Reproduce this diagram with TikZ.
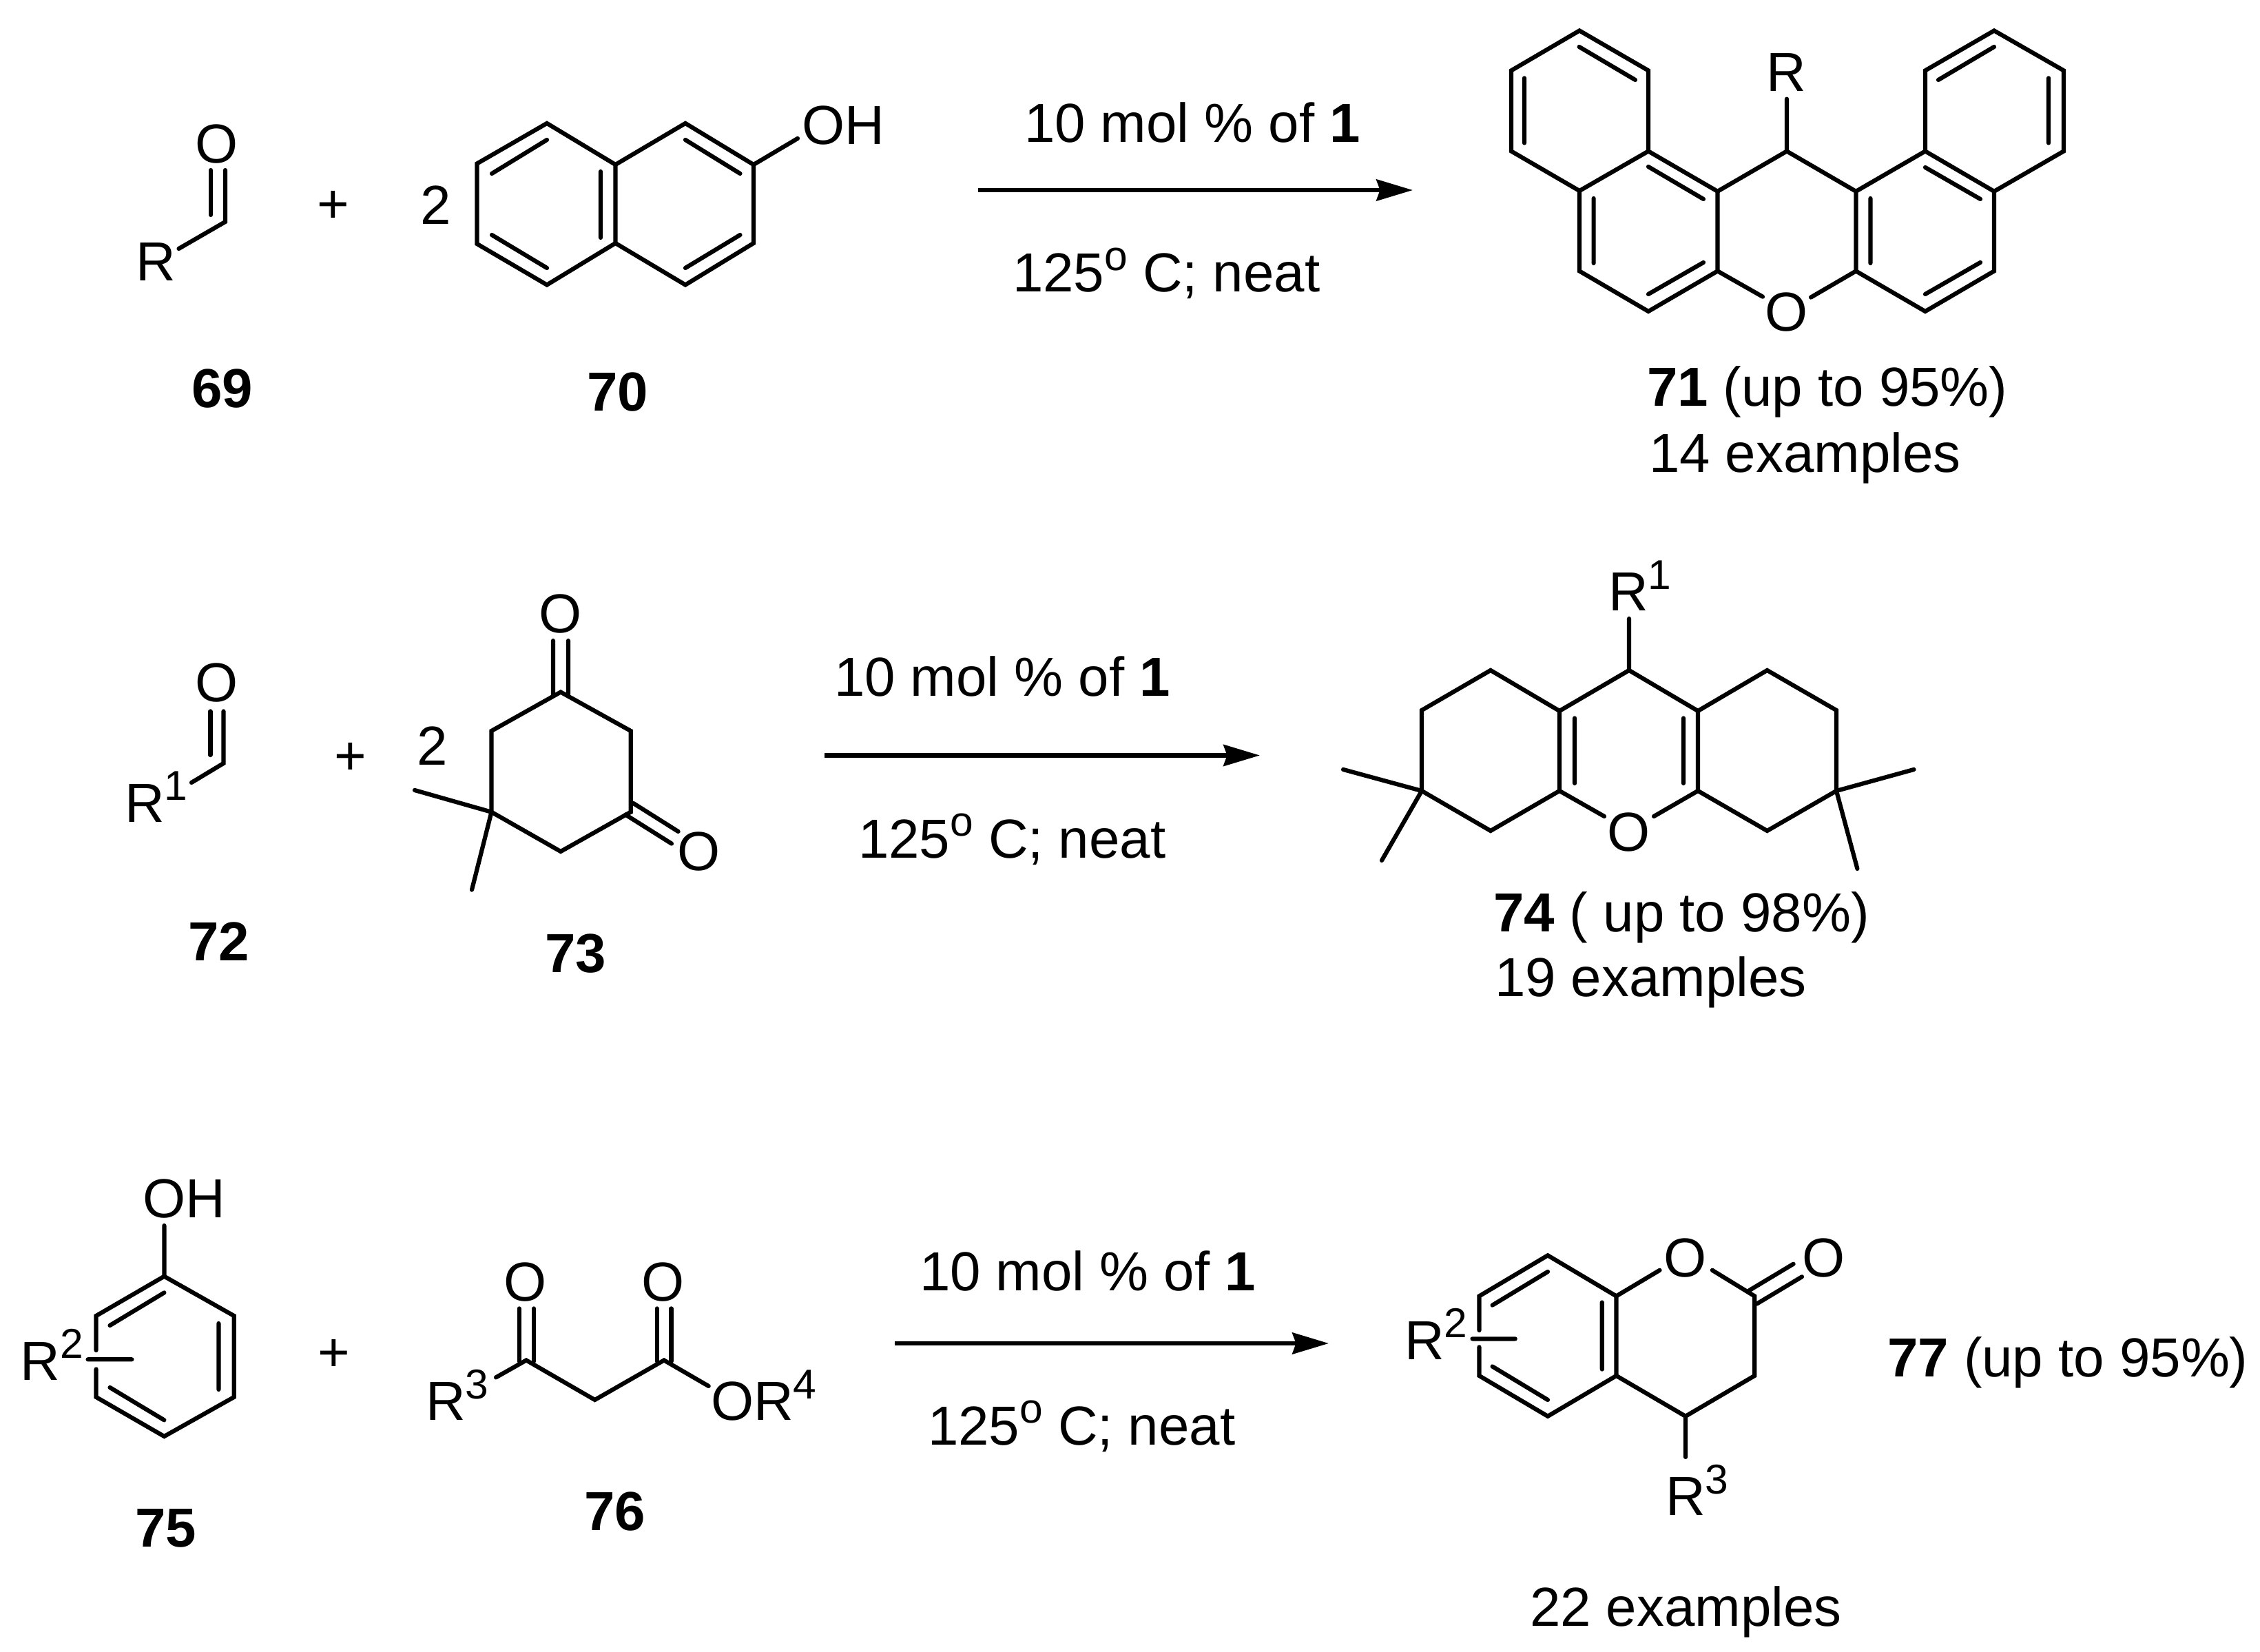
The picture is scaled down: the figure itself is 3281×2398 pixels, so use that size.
\documentclass[tikz,border=0pt]{standalone}
\usepackage{fontspec}
\setmainfont{Liberation Sans}
\usetikzlibrary{arrows.meta}
\newcommand{\supr}[1]{\raisebox{8.9pt}{\fontsize{17.2}{18}\selectfont #1}}
\newcommand{\pts}[1]{\foreach \n/\px/\py in {#1}{\coordinate (\n) at (\px,\py);}}
\tikzset{
  bond/.style={line width=0.062cm,line cap=round,line join=miter,black},
  rxn/.style={line width=0.062cm,black,-{Stealth[length=15pt,width=8.8pt,inset=1.5pt]}},
  lab/.style={inner sep=0pt,outer sep=0pt,anchor=base west,font=\fontsize{22.7}{26}\selectfont},
  atom/.style={inner sep=0pt,outer sep=0pt,anchor=base,font=\fontsize{22.7}{26}\selectfont},
  num/.style={inner sep=0pt,outer sep=0pt,anchor=base,font=\fontsize{22.7}{26}\selectfont\bfseries}
}
\begin{document}
\begin{tikzpicture}[x=0.01cm,y=-0.01cm]
\useasboundingbox (0,0) rectangle (3281,2398);
% ---------- 69
\pts{a1/327/322,a2/327/247,a3/306/247,a4/306/312,a5/259.5/361}
\draw[bond] (a2)--(a1)--(a5);
\draw[bond] (a3)--(a4);
\node[atom] (o69) at (315,236.5) {O};
\node[lab] (r69) at (197,408) {R};
\node[atom] (plus1) at (484,324) {+};
\node[atom] (two1) at (633,326) {2};
\node[num] (n69) at (323,592) {69};
% ---------- 70
\pts{b1/692.5/237.5,b2/794/179,b3/893.5/239,b4/893.5/353,b5/794/413.5,b6/692.5/354,
     b7/995/179,b8/1094/239,b9/1094/353,b10/995/413.5,b11/1158/201,
     b12/714/252,b13/794/203,b14/714/341,b15/794/389,b16/872/249,b17/872/345,
     b18/995/203,b19/1074.5/252,b20/1074.5/341,b21/995/389}
\draw[bond] (b1)--(b2)--(b3)--(b4)--(b5)--(b6)--cycle;
\draw[bond] (b3)--(b7)--(b8)--(b9)--(b10)--(b4);
\draw[bond] (b8)--(b11);
\draw[bond] (b12)--(b13) (b14)--(b15) (b16)--(b17) (b18)--(b19) (b20)--(b21);
\node[lab] (oh70) at (1164,210) {OH};
\node[num] (n70) at (897,597) {70};
% ---------- arrow 1
\coordinate (arr1s) at (1419.5,276);
\coordinate (arr1e) at (2051,276);
\draw[rxn] (arr1s)--(arr1e);
\node[lab] (t1a) at (1487,207) {10 mol \% of \textbf{1}};
\node[lab] (t1b) at (1470,424) {125\supr{o} C; neat};
% ---------- 71
\pts{c1/2293/44.5,c2/2194/102.4,c3/2194/219.5,c4/2293/277,c5/2393/219.5,c6/2393/102.4,
     c7/2293/393.5,c8/2393/452,c9/2493.5/393.5,c10/2493.5/277.8,c11/2594/219.5,
     c12/2694.4/277.8,c13/2694.4/393.5,c14/2795/219.5,c15/2795/102.4,c16/2895/44.5,
     c17/2996/102.4,c18/2996/219.5,c19/2895/277.8,c20/2895/393.5,c21/2795/452,
     c22/2559/430.7,c23/2629/431.6,c24/2594/143.7}
\draw[bond] (c1)--(c2)--(c3)--(c4)--(c5)--(c6)--cycle;
\draw[bond] (c4)--(c7)--(c8)--(c9)--(c10)--(c5);
\draw[bond] (c10)--(c11)--(c12)--(c13)--(c21)--(c20)--(c19)--(c14)--(c12);
\draw[bond] (c14)--(c15)--(c16)--(c17)--(c18)--(c19);
\draw[bond] (c9)--(c22) (c13)--(c23) (c11)--(c24);
\pts{c31/2213/113.4,c32/2213/207.5,c33/2292.6/68,c34/2374/116,c35/2393/242,c36/2473/289,
     c37/2313.6/288,c38/2313.6/382,c39/2393/427,c40/2473/381,c41/2895/68,c42/2814/116,
     c43/2974/113.4,c44/2974/207.5,c45/2795/243,c46/2875/289,c47/2715.4/288,c48/2715.4/382,
     c49/2795/427,c50/2875/381}
\draw[bond] (c31)--(c32) (c33)--(c34) (c35)--(c36) (c37)--(c38) (c39)--(c40)
            (c41)--(c42) (c43)--(c44) (c45)--(c46) (c47)--(c48) (c49)--(c50);
\node[atom] (o71) at (2594,481) {O};
\node[atom] (r71) at (2593,133) {R};
\node[lab] (n71) at (2391,590) {\textbf{71} (up to 95\%)};
\node[lab] (e71) at (2394,686) {14 examples};
% ---------- 72
\pts{d1/324.5/1108,d2/324.5/1032.5,d3/305.4/1032.5,d4/305.4/1096,d5/278/1136}
\draw[bond] (d2)--(d1)--(d5);
\draw[bond] (d3)--(d4);
\node[atom] (o72) at (315,1019) {O};
\node[lab] (r72) at (181,1193) {R\supr{1}};
\node[atom] (plus2) at (509,1125) {+};
\node[atom] (two2) at (627.5,1110) {2};
\node[num] (n72) at (318,1394) {72};
% ---------- 73
\pts{e1/814/1004.6,e2/915.7/1061,e3/915.7/1178.7,e4/814/1236,e5/713.5/1178.7,e6/713.5/1061,
     e7/803/930,e8/803/1008,e9/825/930,e10/825/1008,e11/919.5/1166,e12/984.6/1207,
     e13/908/1182.5,e14/975/1224.6,e15/602/1147,e16/685/1291.6}
\draw[bond] (e1)--(e2)--(e3)--(e4)--(e5)--(e6)--cycle;
\draw[bond] (e7)--(e8) (e9)--(e10) (e11)--(e12) (e13)--(e14) (e5)--(e15) (e5)--(e16);
\node[atom] (o73a) at (814,919) {O};
\node[atom] (o73b) at (1014.6,1263) {O};
\node[num] (n73) at (836,1411) {73};
% ---------- arrow 2
\coordinate (arr2s) at (1197,1096.5);
\coordinate (arr2e) at (1829,1096.5);
\draw[rxn] (arr2s)--(arr2e);
\node[lab] (t2a) at (1211,1011) {10 mol \% of \textbf{1}};
\node[lab] (t2b) at (1246,1245) {125\supr{o} C; neat};
% ---------- 74
\pts{f1/2164/973,f2/2064/1031,f3/2064/1148,f4/2164/1206,f5/2264/1148,f6/2264/1032,
     f7/2365/973,f8/2465/1032,f9/2465/1148,f10/2565.5/973,f11/2666/1031,f12/2666/1148,
     f13/2565.5/1206,f14/2329/1185,f15/2401/1185,f16/2286/1042.5,f17/2286/1137,
     f18/2444/1042.5,f19/2444/1137,f20/1950/1117,f21/2006/1249,f22/2778.5/1117,
     f23/2696.4/1261,f24/2365/898}
\draw[bond] (f1)--(f2)--(f3)--(f4)--(f5)--(f6)--cycle;
\draw[bond] (f6)--(f7)--(f8)--(f9)--(f13)--(f12)--(f11)--(f10)--(f8);
\draw[bond] (f5)--(f14) (f9)--(f15) (f16)--(f17) (f18)--(f19)
            (f3)--(f20) (f3)--(f21) (f12)--(f22) (f12)--(f23) (f7)--(f24);
\node[atom] (o74) at (2365,1235) {O};
\node[lab] (r74) at (2335,887) {R\supr{1}};
\node[lab] (n74) at (2168,1352) {\textbf{74} ( up to 98\%)};
\node[lab] (e74) at (2170,1446.5) {19 examples};
% ---------- 75
\pts{g1/238.4/1852.7,g2/339.7/1910,g3/339.7/2028,g4/238.4/2085,g5/139.6/2028,g6/139.6/1910,
     g7/139.6/1960,g8/139.6/1987.5,g9/127.6/1973.3,g10/191.4/1973.3,
     g11/238.4/1876.4,g12/159.5/1924,g13/317.4/1921,g14/317.4/2017,g15/159.5/2014,g16/238.4/2061.4,
     g17/238.4/1779}
\draw[bond] (g7)--(g6)--(g1)--(g2)--(g3)--(g4)--(g5)--(g8);
\draw[bond] (g9)--(g10) (g11)--(g12) (g13)--(g14) (g15)--(g16) (g1)--(g17);
\node[lab] (oh75) at (207,1767) {OH};
\node[lab] (r75) at (30,2003) {R\supr{2}};
\node[atom] (plus3) at (485,1990) {+};
\node[num] (n75) at (241,2245) {75};
% ---------- 76
\pts{h1/764/1974.5,h2/863.6/2032,h3/964/1974.5,h4/720/1999.4,h5/1028.7/2012,
     h6/753.6/1899.4,h7/753.6/1976,h8/775/1899.4,h9/775/1976,
     h10/953.7/1899.4,h11/953.7/1976,h12/974.5/1899.4,h13/974.5/1976}
\draw[bond] (h4)--(h1)--(h2)--(h3)--(h5);
\draw[bond] (h6)--(h7) (h8)--(h9) (h10)--(h11) (h12)--(h13);
\node[atom] (o76a) at (763,1888) {O};
\node[atom] (o76b) at (963,1888) {O};
\node[lab] (r76) at (618,2061.4) {R\supr{3}};
\node[lab] (or76) at (1032,2061.4) {OR\supr{4}};
\node[num] (n76) at (893,2221) {76};
% ---------- arrow 3
\coordinate (arr3s) at (1299,1950);
\coordinate (arr3e) at (1929,1950);
\draw[rxn] (arr3s)--(arr3e);
\node[lab] (t3a) at (1335,1873) {10 mol \% of \textbf{1}};
\node[lab] (t3b) at (1347,2097) {125\supr{o} C; neat};
% ---------- 77
\pts{i1/2247/1822.3,i2/2346.5/1881.4,i3/2346.5/1997,i4/2247/2055.8,i5/2147.5/1997,i6/2147.5/1881.4,
     i7/2147.5/1931,i8/2147.5/1955.4,i9/2137.5/1943.4,i10/2199.7/1943.4,
     i11/2247/1846,i12/2166.6/1894.6,i13/2325.8/1890.5,i14/2325.8/1987.6,i15/2166.6/1983.5,i16/2247/2032,
     i17/2409.5/1843.8,i18/2485.8/1843.8,i19/2547.2/1881.4,i20/2547.2/1997,i21/2447/2055.8,
     i22/2539.7/1873,i23/2603.6/1834.7,i24/2550.5/1892.6,i25/2616/1853.3,i26/2447/2115}
\draw[bond] (i7)--(i6)--(i1)--(i2)--(i3)--(i4)--(i5)--(i8);
\draw[bond] (i2)--(i17) (i18)--(i19)--(i20)--(i21)--(i3);
\draw[bond] (i9)--(i10) (i11)--(i12) (i13)--(i14) (i15)--(i16) (i22)--(i23) (i24)--(i25) (i21)--(i26);
\node[atom] (o77a) at (2447,1853) {O};
\node[atom] (o77b) at (2647.5,1853) {O};
\node[lab] (r77a) at (2039,1973) {R\supr{2}};
\node[lab] (r77b) at (2418,2199.6) {R\supr{3}};
\node[lab] (n77) at (2740,1998) {\textbf{77} (up to 95\%)};
\node[lab] (e77) at (2221,2360.7) {22 examples};
\end{tikzpicture}
\end{document}
